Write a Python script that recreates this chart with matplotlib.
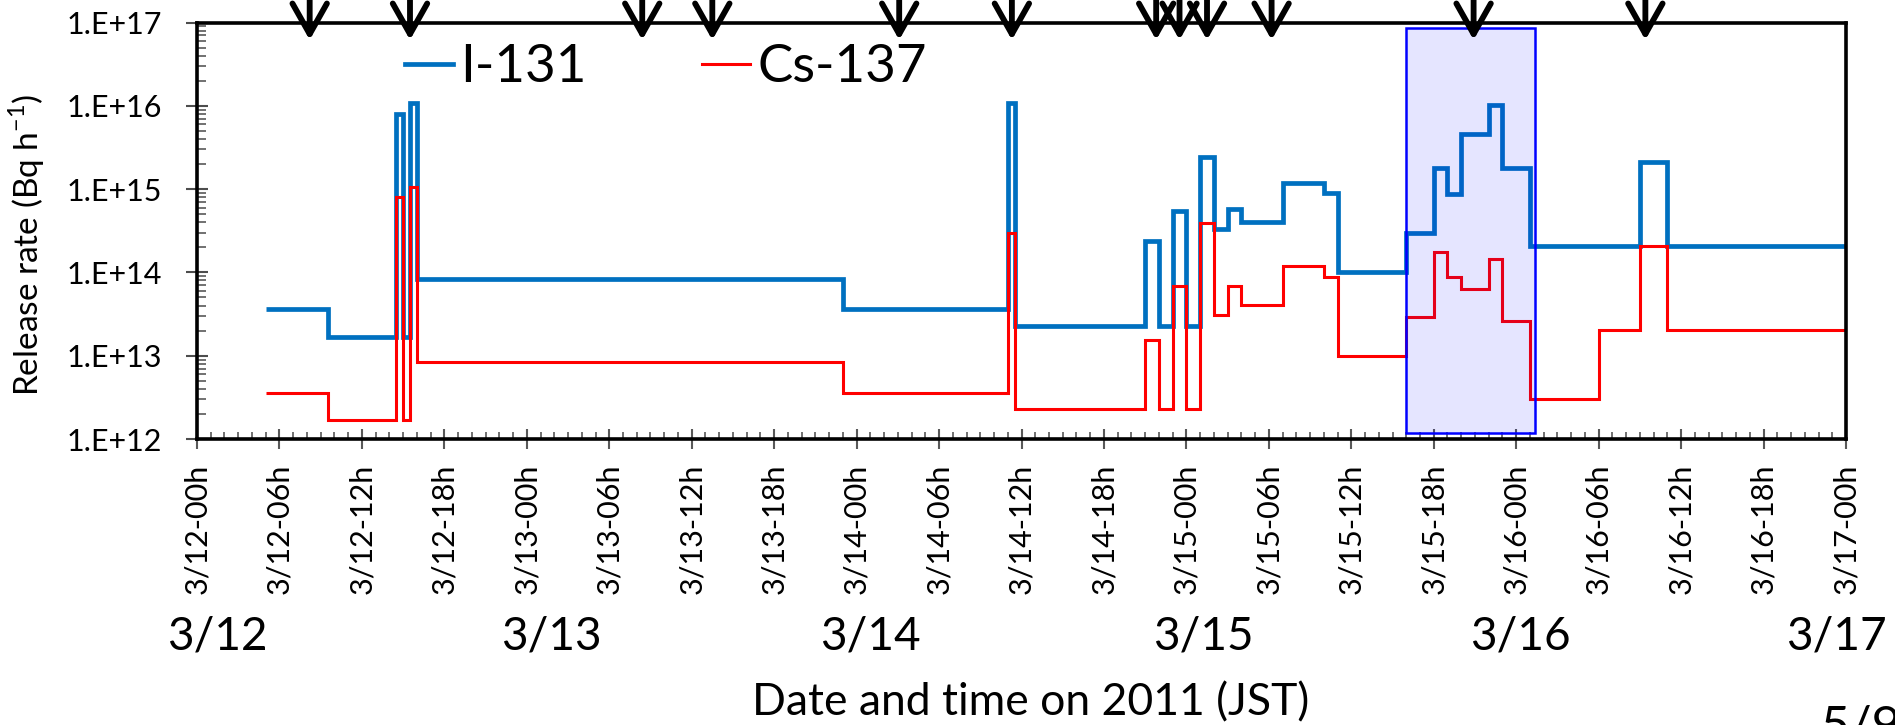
import matplotlib.pyplot as plt
from matplotlib.patches import Rectangle
from matplotlib.ticker import FixedLocator, MultipleLocator, FuncFormatter, LogLocator, NullFormatter
import numpy as np

plt.rcParams['font.family'] = ['Lato', 'DejaVu Sans']
plt.rcParams['mathtext.fontset'] = 'custom'
plt.rcParams['mathtext.rm'] = 'Lato'

# time axis: hours since 3/12 00h JST, step series (edges + one value per step)
i131_edges = [5, 9.5, 14.5, 15, 15.5, 16, 47, 59, 59.5, 69, 70, 71, 72, 73, 74,
              75, 76, 79, 82, 83, 88, 90, 91, 92, 94, 95, 97, 105, 107, 120]
i131_rate = [3.6e13, 1.7e13, 8e15, 1.7e13, 1.07e16, 8.4e13, 3.6e13, 1.07e16, 2.3e13,
             2.4e14, 2.3e13, 5.4e14, 2.3e13, 2.4e15, 3.3e14, 5.8e14, 4.0e14, 1.2e15,
             9e14, 1e14, 3e14, 1.8e15, 8.7e14, 4.6e15, 1.03e16, 1.8e15, 2.1e14,
             2.1e15, 2.1e14]

cs137_edges = [5, 9.5, 14.5, 15, 15.5, 16, 47, 59, 59.5, 69, 70, 71, 72, 73, 74,
               75, 76, 79, 82, 83, 88, 90, 91, 92, 94, 95, 97, 102, 105, 107, 120]
cs137_rate = [3.6e12, 1.7e12, 8e14, 1.7e12, 1.05e15, 8.4e12, 3.55e12, 3e14, 2.3e12,
              1.56e13, 2.3e12, 6.8e13, 2.3e12, 3.9e14, 3.1e13, 6.9e13, 4.1e13, 1.18e14,
              8.7e13, 1e13, 2.9e13, 1.74e14, 8.9e13, 6.4e13, 1.45e14, 2.6e13, 3e12,
              2.05e13, 2.1e14, 2.05e13]

# event arrows on top (hours)
event_hours = [8.2, 15.5, 32.4, 37.5, 51.1, 59.3, 69.8, 71.5, 73.5, 78.2, 92.9, 105.4]

# highlighted period
box_hours = (88.0, 97.4)
box_rate = (1.17e12, 8.5e16)

tick_hours = list(range(0, 121, 6))
tick_labels = ['3/12-00h', '3/12-06h', '3/12-12h', '3/12-18h',
               '3/13-00h', '3/13-06h', '3/13-12h', '3/13-18h',
               '3/14-00h', '3/14-06h', '3/14-12h', '3/14-18h',
               '3/15-00h', '3/15-06h', '3/15-12h', '3/15-18h',
               '3/16-00h', '3/16-06h', '3/16-12h', '3/16-18h', '3/17-00h']

day_labels = ['3/12', '3/13', '3/14', '3/15', '3/16', '3/17']
day_label_hours = [1.5, 25.8, 49.0, 73.2, 96.3, 119.3]

fig = plt.figure(figsize=(18.95, 7.25), dpi=100)
ax = fig.add_axes([197 / 1895, 1 - 439 / 725, 1649 / 1895, 416.5 / 725])

ax.stairs(i131_rate, i131_edges, baseline=None, color='#0070c0', lw=3.4, label='I-131', zorder=2)
ax.stairs(cs137_rate, cs137_edges, baseline=None, color='#ff0000', lw=2.2, label='Cs-137', zorder=2)

ax.add_patch(Rectangle((box_hours[0], box_rate[0]), box_hours[1] - box_hours[0],
                       box_rate[1] - box_rate[0], facecolor=(0, 0, 1, 0.1),
                       edgecolor='#0000ff', lw=1.8, zorder=3))

ax.set_yscale('log')
ax.set_ylim(1e12, 1e17)
ax.set_xlim(0, 120)

ax.yaxis.set_major_locator(LogLocator(base=10, numticks=10))
ax.yaxis.set_major_formatter(FuncFormatter(lambda v, p: '1.E+%d' % round(np.log10(v))))
ax.yaxis.set_minor_locator(LogLocator(base=10, subs=np.arange(2, 10), numticks=20))
ax.yaxis.set_minor_formatter(NullFormatter())

ax.xaxis.set_major_locator(FixedLocator(tick_hours))
ax.set_xticklabels(tick_labels, rotation=90, fontsize=22)
ax.xaxis.set_minor_locator(MultipleLocator(1))

ax.tick_params(axis='y', which='major', direction='inout', length=16, width=1.5,
               color='0.3', labelsize=22, pad=17)
ax.tick_params(axis='y', which='minor', direction='in', length=6.5, width=1.2, color='0.35')
ax.tick_params(axis='x', which='major', direction='inout', length=14, width=1.5,
               color='0.35', pad=11)
ax.tick_params(axis='x', which='minor', direction='in', length=5, width=1.2, color='0.35')

for s in ax.spines.values():
    s.set_linewidth(2.6)
    s.set_color('black')

for h in event_hours:
    ax.annotate('', xy=(h, 0.958), xytext=(h, 1.12),
                xycoords=ax.get_xaxis_transform(), textcoords=ax.get_xaxis_transform(),
                annotation_clip=False,
                arrowprops=dict(arrowstyle='->,head_length=1.1,head_width=0.62',
                                lw=4.2, color='black', mutation_scale=20,
                                shrinkA=0, shrinkB=0, capstyle='round'),
                zorder=5)

ax.legend(loc='center left', bbox_to_anchor=(405 / 1895, 1 - 68 / 725),
          bbox_transform=fig.transFigure, ncol=2, frameon=False, fontsize=38,
          handlelength=0.9, handletextpad=0.14, columnspacing=2.2,
          borderpad=0, borderaxespad=0)

for lab, h in zip(day_labels, day_label_hours):
    fig.text((197 + h * 1649 / 120) / 1895, 1 - 650 / 725, lab, fontsize=33,
             ha='center', va='baseline')

fig.text(27 / 1895, 1 - 245 / 725, r'Release rate (Bq h$^{\mathregular{-1}}$)',
         rotation=90, fontsize=24, ha='center', va='center')
fig.text(1031 / 1895, 1 - 715 / 725, 'Date and time on 2011 (JST)', fontsize=32,
         ha='center', va='baseline')
# page number, cut by the bottom edge as in the slide
fig.text(1820 / 1895, 1 - 741 / 725, '5/9', fontsize=36, ha='left', va='baseline')

fig.savefig('out.png', dpi=100)
